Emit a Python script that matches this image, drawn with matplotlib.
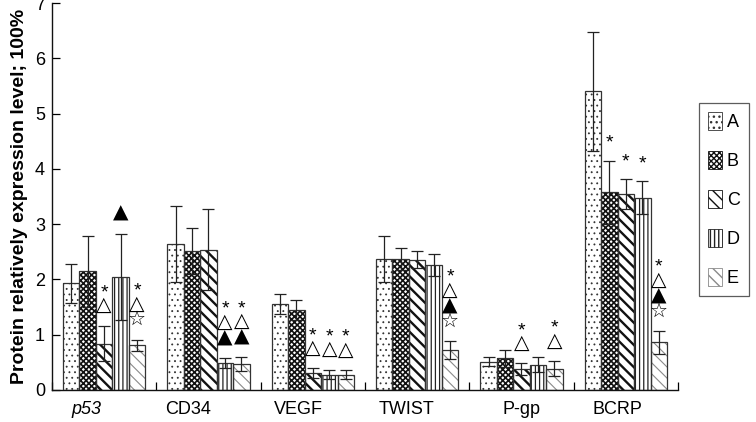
import matplotlib
matplotlib.use('Agg')
import matplotlib.pyplot as plt
import numpy as np
from matplotlib.patches import Patch

plt.rcParams['font.family'] = ['Liberation Sans', 'DejaVu Sans']

categories = ['p53', 'CD34', 'VEGF', 'TWIST', 'P-gp', 'BCRP']
series = ['A', 'B', 'C', 'D', 'E']

A_vals = [1.93, 2.64, 1.55, 2.37, 0.51, 5.40]
A_err = [0.35, 0.68, 0.18, 0.42, 0.08, 1.08]
B_vals = [2.15, 2.51, 1.44, 2.37, 0.57, 3.58]
B_err = [0.64, 0.42, 0.18, 0.20, 0.15, 0.57]
C_vals = [0.84, 2.54, 0.30, 2.36, 0.38, 3.54]
C_err = [0.32, 0.73, 0.09, 0.15, 0.10, 0.27]
D_vals = [2.05, 0.49, 0.28, 2.26, 0.46, 3.48]
D_err = [0.78, 0.09, 0.09, 0.20, 0.13, 0.30]
E_vals = [0.81, 0.47, 0.28, 0.72, 0.385, 0.86]
E_err = [0.10, 0.12, 0.08, 0.16, 0.135, 0.20]

# significance marks (top to bottom)
A_sig = ['', '', '', '', '', '']
B_sig = ['', '', '', '', '', '*']
C_sig = ['*△', '', '*△', '', '*△', '*']
D_sig = ['▲', '*△▲', '*△', '', '', '*']
E_sig = ['*△☆', '*△▲', '*△', '*△▲☆', '*△', '*△▲☆']

yticks = [0, 1, 2, 3, 4, 5, 6, 7]
ylabel = 'Protein relatively expression level; 100%'

vals = [A_vals, B_vals, C_vals, D_vals, E_vals]
errs = [A_err, B_err, C_err, D_err, E_err]
sigs = [A_sig, B_sig, C_sig, D_sig, E_sig]

styles = [
    dict(hatch='...', hcolor='#333333', hlw=0.6),
    dict(hatch='xxxxxx', hcolor='#111111', hlw=1.2),
    dict(hatch='\\\\\\', hcolor='#111111', hlw=1.7),
    dict(hatch='||||', hcolor='#222222', hlw=0.9),
    dict(hatch='\\\\\\', hcolor='#8a8a8a', hlw=0.8),
]

fig = plt.figure(figsize=(7.56, 4.22), dpi=100)
ax = fig.add_axes([52 / 756, 32 / 422, 626 / 756, 387 / 422])

n = len(categories)
bw = 0.158
centers = np.arange(n) + 0.5
legend_handles = []
for j, (v, e, s, st) in enumerate(zip(vals, errs, sigs, styles)):
    x = centers + (j - 2) * bw
    with plt.rc_context({'hatch.linewidth': st['hlw']}):
        ax.bar(x, v, width=bw, facecolor='white', edgecolor=st['hcolor'],
               hatch=st['hatch'], linewidth=0, zorder=2)
        ax.bar(x, v, width=bw, facecolor='none', edgecolor='#333333',
               linewidth=0.9, zorder=3)
        legend_handles.append(Patch(facecolor='white', edgecolor=st['hcolor'],
                                    hatch=st['hatch'], linewidth=0.6,
                                    label=series[j]))
    ax.errorbar(x, v, yerr=e, fmt='none', ecolor='#222222', elinewidth=0.9,
                capsize=4, capthick=0.9, zorder=4)
    for xi, vi, ei, si in zip(x, v, e, s):
        if not si:
            continue
        marks = list(si)[::-1]
        for k, m in enumerate(marks):
            off = 14.5 + k * 11.2
            if m == '*':
                ax.annotate(m, (xi, vi + ei), xytext=(0, off - 2),
                            textcoords='offset points', ha='center', va='center',
                            fontsize=14, family=['Liberation Sans'])
            else:
                ax.annotate(m, (xi, vi + ei), xytext=(0, off),
                            textcoords='offset points', ha='center', va='center',
                            fontsize=14.5, family=['DejaVu Sans'])

ax.set_xlim(0, n)
ax.set_ylim(0, 7)
ax.set_yticks(yticks)
ax.set_yticklabels([str(t) for t in yticks], fontsize=13)
ax.tick_params(axis='y', direction='in', length=6, width=0.9, pad=5)

label_offsets = [-0.17, -0.2, -0.14, -0.1, 0.0, -0.08]
ax.set_xticks(centers + np.array(label_offsets))
ax.set_xticklabels(categories, fontsize=13)
ax.get_xticklabels()[0].set_style('italic')
ax.tick_params(axis='x', which='major', length=0, pad=8)
ax.set_xticks(np.arange(n + 1), minor=True)
ax.tick_params(axis='x', which='minor', direction='in', length=6, width=0.9)

for sp in ['top', 'right']:
    ax.spines[sp].set_visible(False)
for sp in ['left', 'bottom']:
    ax.spines[sp].set_linewidth(1.0)
    ax.spines[sp].set_color('#111111')

ax.set_ylabel(ylabel, fontsize=14, fontweight='bold', labelpad=5)

leg = fig.legend(handles=legend_handles, loc='upper left',
                 bbox_to_anchor=(699 / 756, 1 - 103 / 422), frameon=True,
                 fancybox=False, fontsize=13, handlelength=0.8, handleheight=1.15,
                 handletextpad=0.25, labelspacing=1.1, borderpad=0.5,
                 borderaxespad=0)
leg.get_frame().set_edgecolor('#333333')
leg.get_frame().set_linewidth(0.9)

fig.savefig('out.png', dpi=100)
